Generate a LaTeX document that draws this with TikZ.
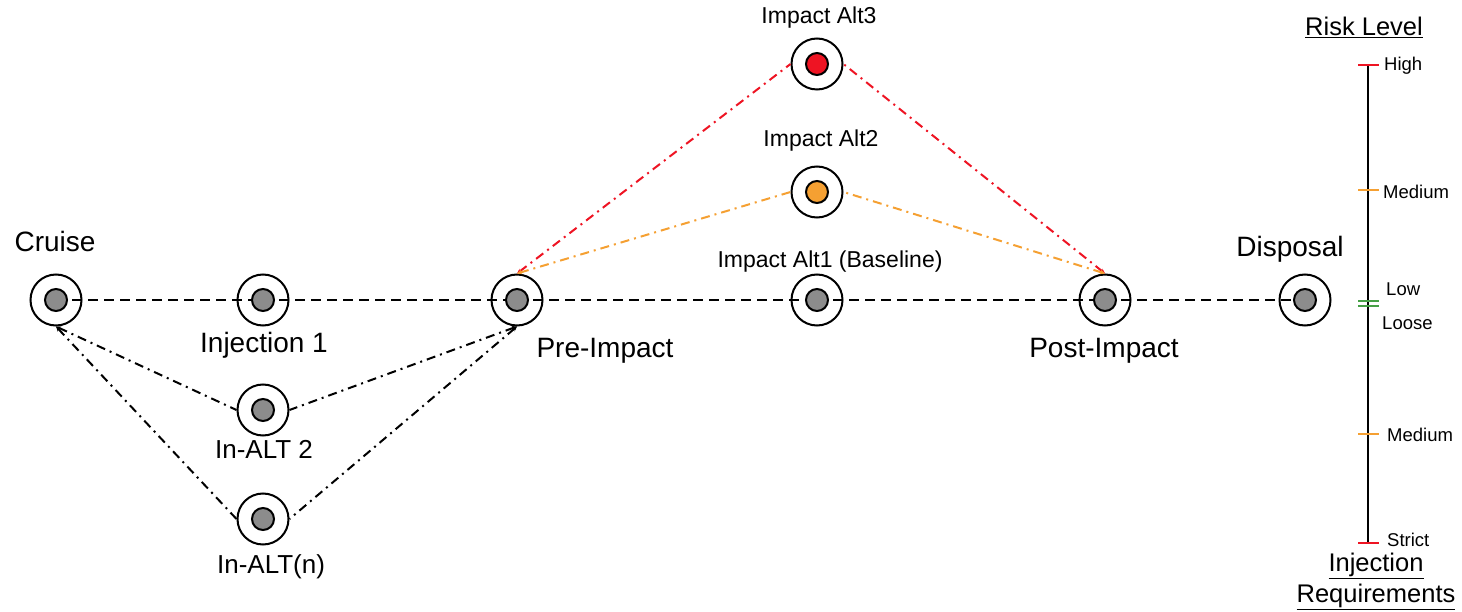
\documentclass[tikz,border=0pt]{standalone}
\usepackage{fontspec}
\setmainfont{Liberation Sans}
\usetikzlibrary{arrows.meta,backgrounds}
\definecolor{nodegray}{RGB}{140,140,140}
\definecolor{altred}{RGB}{238,20,35}
\definecolor{altorange}{RGB}{245,160,50}
\definecolor{tickgreen}{RGB}{70,160,70}
\tikzset{
  phase/.style={circle, draw=black, line width=2pt, minimum size=51pt, inner sep=0pt,
    path picture={\fill[#1, draw=black, line width=2pt] (path picture bounding box.center) circle (11pt);}},
  phase/.default=nodegray,
  bigl/.style={font=\fontsize{28}{32}\selectfont},
  midl/.style={font=\fontsize{26}{30}\selectfont},
  smalll/.style={font=\fontsize{23}{27}\selectfont},
  scalel/.style={font=\fontsize{18.5}{22}\selectfont, anchor=west, inner sep=0pt},
  titlel/.style={font=\fontsize{25.5}{29}\selectfont, inner sep=0pt},
  mainline/.style={line width=2pt, dash pattern=on 10pt off 6pt},
  altline/.style={line width=2pt, dash pattern=on 9pt off 5pt on 2pt off 5pt},
  tip/.style={{Stealth[length=5pt,width=4.5pt]}-},
}
\begin{document}
\begin{tikzpicture}[x=1pt,y=-1pt]
\path[use as bounding box] (0,0) rectangle (1462,612);

% phase nodes
\node[phase] (cru) at (56,300) {};
\node[phase] (inj) at (263,300) {};
\node[phase] (pre) at (517,300) {};
\node[phase] (alt1) at (817,300) {};
\node[phase] (post) at (1105,300) {};
\node[phase] (disp) at (1305,300) {};
\node[phase] (in2) at (263,410) {};
\node[phase] (inn) at (263,519) {};
\node[phase=altorange] (alt2) at (817,192) {};
\node[phase=altred] (alt3) at (817,64) {};

% labels
\node[bigl] (lcru) at (55,241) {Cruise};
\node[bigl] (linj) at (264,345) {Injection 1};
\node[bigl] (lpre) at (605,351) {Pre-Impact};
\node[bigl] (lpost) at (1104,351) {Post-Impact};
\node[bigl] (ldisp) at (1290,249) {Disposal};
\node[midl] (lin2) at (264,449) {In-ALT 2};
\node[midl] (linn) at (271,567) {In-ALT(n)};
\node[smalll] (lalt1) at (830,262) {Impact Alt1 (Baseline)};
\node[smalll] (lalt2) at (821,141) {Impact Alt2};
\node[smalll] (lalt3) at (819,18) {Impact Alt3};

% main dashed path (behind the nodes)
\begin{pgfonlayer}{background}
\draw[mainline] (cru.center) -- (inj.center);
\draw[mainline] (inj.center) -- (pre.center);
\draw[mainline] (pre.center) -- (alt1.center);
\draw[mainline] (alt1.center) -- (post.center);
\draw[mainline] (post.center) -- (disp.center);
\end{pgfonlayer}

% injection alternatives
\draw[altline, tip] (cru.south) -- (in2.west);
\draw[altline, tip] (cru.south) -- (inn.west);
\draw[altline, tip] (pre.south) -- (in2.east);
\draw[altline, tip] (pre.south) -- (inn.east);

% impact alternatives
\draw[altline, altred, tip] (pre.north) -- (alt3.west);
\draw[altline, altred, tip] (post.north) -- (alt3.east);
\draw[altline, altorange, tip] (pre.north) -- (alt2.west);
\draw[altline, altorange, tip] (post.north) -- (alt2.east);

% risk scale
\draw[line width=2.5pt] (1368,65) -- (1368,543);
\draw[altred, line width=2pt] (1358,65) -- (1379,65);
\draw[altorange, line width=2pt] (1358,190) -- (1379,190);
\draw[tickgreen, line width=2pt] (1358,301) -- (1379,301);
\draw[tickgreen, line width=2pt] (1358,306) -- (1379,306);
\draw[altorange, line width=2pt] (1358,434) -- (1379,434);
\draw[altred, line width=2pt] (1358,543) -- (1379,543);

\node[scalel] (shigh) at (1384,66) {High};
\node[scalel] (smed1) at (1383,192) {Medium};
\node[scalel] (slow) at (1386,289) {Low};
\node[scalel] (sloose) at (1382,323) {Loose};
\node[scalel] (smed2) at (1387,435) {Medium};
\node[scalel] (sstrict) at (1387,540) {Strict};

\node[titlel] (trisk) at (1364,27) {\underline{Risk Level}};
\node[titlel] (tinj) at (1376,566) {\underline{Injection}};
\node[titlel] (treq) at (1376,597) {\underline{Requirements}};
\end{tikzpicture}
\end{document}
